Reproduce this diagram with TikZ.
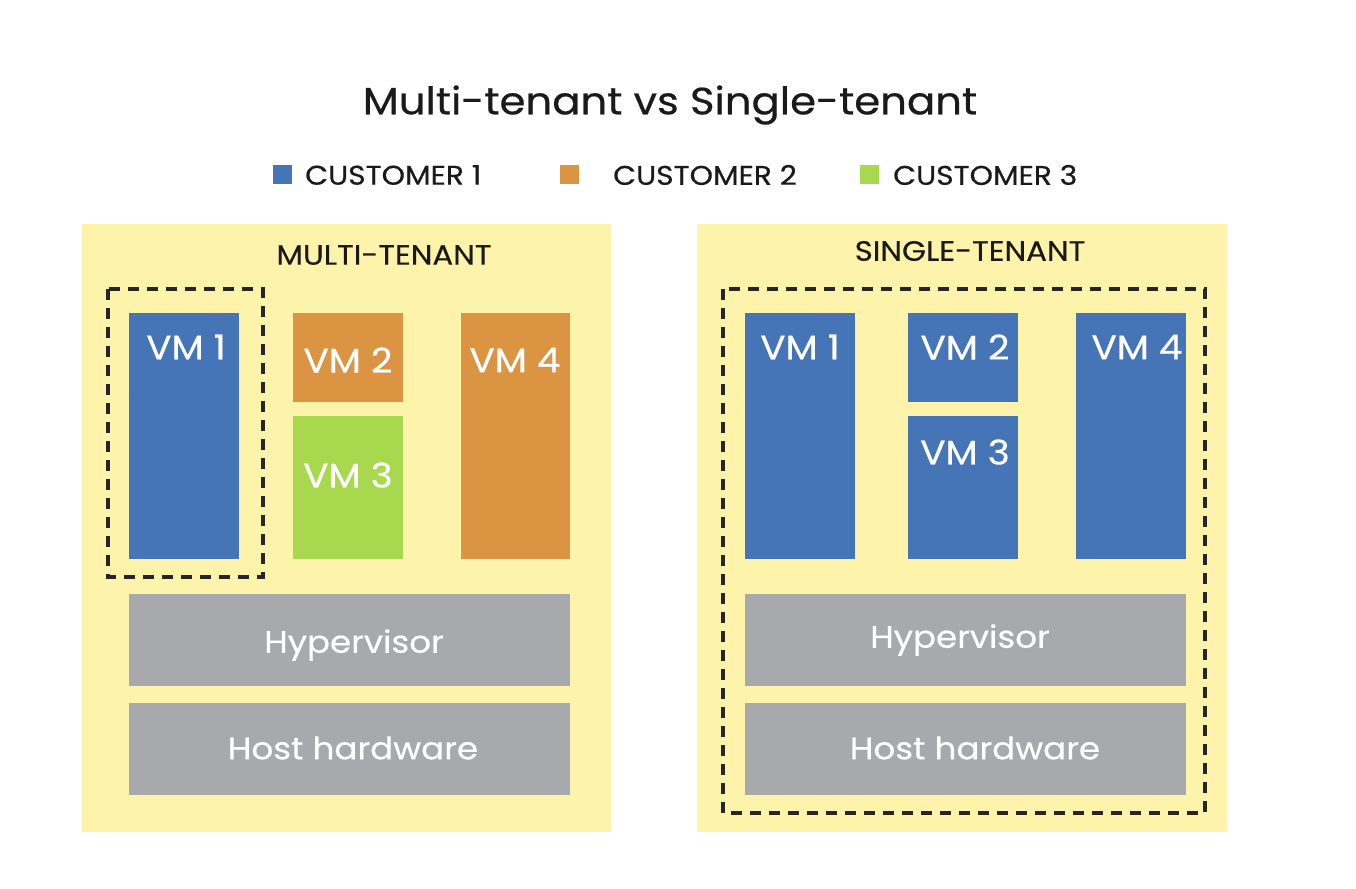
\documentclass[tikz,border=0pt]{standalone}
\usepackage{fontspec}
\setmainfont{Poppins}[FakeStretch=1.1, FakeBold=0.5]
\definecolor{cblue}{HTML}{4575B6}
\definecolor{corange}{HTML}{DA9442}
\definecolor{cgreen}{HTML}{A8D84E}
\definecolor{cgray}{HTML}{A7A9AC}
\definecolor{cyellow}{HTML}{FDF3AA}
\definecolor{ctext}{HTML}{1A1A1A}
\begin{document}
\begin{tikzpicture}[x=1pt,y=-1pt,
  panel/.style={fill=cyellow, draw=none, anchor=north west, inner sep=0},
  blk/.style={draw=none, anchor=north west, inner sep=0},
  vmtext/.style={text=white, font=\fontsize{34}{34}\selectfont, inner sep=0, anchor=center},
  hwtext/.style={text=white, font=\fontsize{31}{31}\selectfont, inner sep=0, anchor=center},
  head/.style={text=ctext, font=\fontsize{28}{28}\selectfont, inner sep=0, anchor=center},
  legtext/.style={text=ctext, font=\fontsize{27}{27}\selectfont, inner sep=0, anchor=west},
  legsq/.style={draw=none, minimum width=19, minimum height=19, inner sep=0, anchor=north west},
  dashbox/.style={draw=black!85, line width=3.4, dash pattern=on 11 off 8}
]
\useasboundingbox (0,0) rectangle (1356,888);
\fill[white] (0,0) rectangle (1356,888);

% title
\node[text=ctext, font=\fontsize{38}{38}\selectfont, inner sep=0] (title) at (670,105) {Multi-tenant vs Single-tenant};

% legend
\node[legsq, fill=cblue] (sq1) at (273,165) {};
\node[legtext] (l1) at (305,175) {CUSTOMER 1};
\node[legsq, fill=corange] (sq2) at (560,165) {};
\node[legtext] (l2) at (613,175) {CUSTOMER 2};
\node[legsq, fill=cgreen] (sq3) at (860,165) {};
\node[legtext] (l3) at (893,175) {CUSTOMER 3};

% panels
\node[panel, minimum width=529, minimum height=608] (pl) at (82,224) {};
\node[panel, minimum width=530, minimum height=608] (pr) at (697,224) {};
\node[head] (hl) at (384,255) {MULTI-TENANT};
\node[head] (hr) at (970,251) {SINGLE-TENANT};

% left panel blocks
\node[blk, fill=cblue, minimum width=110, minimum height=246] (a1) at (129,313) {};
\node[blk, fill=corange, minimum width=110, minimum height=89] (a2) at (293,313) {};
\node[blk, fill=cgreen, minimum width=110, minimum height=143] (a3) at (293,416) {};
\node[blk, fill=corange, minimum width=109, minimum height=246] (a4) at (461,313) {};
\node[blk, fill=cgray, minimum width=441, minimum height=92] (ah) at (129,594) {};
\node[blk, fill=cgray, minimum width=441, minimum height=92] (aw) at (129,703) {};
\node[vmtext] (ta1) at (186,347) {VM 1};
\node[vmtext] (ta2) at (348,360) {VM 2};
\node[vmtext] (ta3) at (348,475) {VM 3};
\node[vmtext] (ta4) at (515,360) {VM 4};
\node[hwtext] (tah) at (354,645) {Hypervisor};
\node[hwtext] (taw) at (353,748) {Host hardware};
\draw[dashbox] (108,289) rectangle (263,577);

% right panel blocks
\node[blk, fill=cblue, minimum width=110, minimum height=246] (b1) at (745,313) {};
\node[blk, fill=cblue, minimum width=110, minimum height=89] (b2) at (908,313) {};
\node[blk, fill=cblue, minimum width=110, minimum height=143] (b3) at (908,416) {};
\node[blk, fill=cblue, minimum width=110, minimum height=246] (b4) at (1076,313) {};
\node[blk, fill=cgray, minimum width=441, minimum height=92] (bh) at (745,594) {};
\node[blk, fill=cgray, minimum width=441, minimum height=92] (bw) at (745,703) {};
\node[vmtext] (tb1) at (800,347) {VM 1};
\node[vmtext] (tb2) at (965,347) {VM 2};
\node[vmtext] (tb3) at (965,452) {VM 3};
\node[vmtext] (tb4) at (1137,347) {VM 4};
\node[hwtext] (tbh) at (960,640) {Hypervisor};
\node[hwtext] (tbw) at (975,748) {Host hardware};
\draw[dashbox] (723,289) rectangle (1205,813);
\end{tikzpicture}
\end{document}
